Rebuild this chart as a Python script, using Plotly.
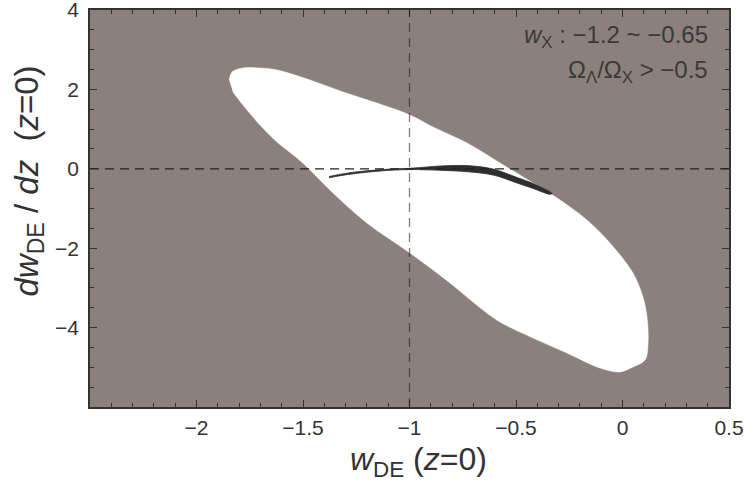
import plotly.graph_objects as go

# Allowed (white) region outline: w_DE(z=0), dw_DE/dz(z=0)
region_w = [-1.847, -1.833, -1.782, -1.702, -1.622, -1.467, -1.312, -1.153, -0.998, -0.890,
            -0.730, -0.575, -0.420, -0.293, -0.167, -0.059, 0.049, 0.096, 0.115, 0.120,
            0.106, 0.049, -0.012, -0.106, -0.261, -0.420, -0.575, -0.655, -0.810, -0.998,
            -1.200, -1.359, -1.467, -1.528, -1.622, -1.702, -1.782, -1.829]
region_dw = [2.237, 2.438, 2.539, 2.539, 2.489, 2.237, 1.935, 1.657, 1.355, 1.053,
             0.650, 0.146, -0.358, -0.786, -1.290, -1.869, -2.625, -3.229, -3.733, -4.388,
             -4.816, -4.992, -5.118, -5.018, -4.640, -4.262, -3.859, -3.557, -2.877, -2.120,
             -1.365, -0.610, -0.030, 0.272, 0.675, 1.103, 1.607, 1.935]

# Dark sliver outline
sliver_w = [-1.378, -1.279, -1.124, -0.998, -0.833, -0.716, -0.608, -0.495, -0.420, -0.331,
            -0.340, -0.420, -0.495, -0.608, -0.730, -0.833, -0.998, -1.124, -1.279, -1.378]
sliver_dw = [-0.194, -0.098, -0.018, 0.013, 0.076, 0.076, -0.005, -0.219, -0.370, -0.622,
             -0.642, -0.496, -0.358, -0.156, -0.073, -0.043, -0.020, -0.050, -0.136, -0.224]

x_ticks = [-2, -1.5, -1, -0.5, 0, 0.5]
y_ticks = [-4, -2, 0, 2, 4]
x_range = [-2.5, 0.5]
y_range = [-6, 4]

BG = "#8b807c"
INK = "#333333"
FONT = "Liberation Sans, Arial, sans-serif"

fig = go.Figure()
fig.add_trace(go.Scatter(x=region_w, y=region_dw, fill="toself", fillcolor="white",
                         mode="lines", line=dict(color="white", width=0.5, shape="spline"),
                         hoverinfo="skip", showlegend=False))
fig.add_trace(go.Scatter(x=sliver_w, y=sliver_dw, fill="toself", fillcolor="#2e2e30",
                         mode="lines", line=dict(color="#2e2e30", width=0.8, shape="spline"),
                         hoverinfo="skip", showlegend=False))

# reference dashed lines
fig.add_shape(type="line", x0=x_range[0], x1=x_range[1], y0=0, y1=0, xref="x", yref="y",
              line=dict(color="#222222", width=1.2, dash="9px,6px"), layer="above")
fig.add_shape(type="line", x0=-1, x1=-1, y0=y_range[0], y1=y_range[1], xref="x", yref="y",
              line=dict(color="rgba(20,20,20,0.55)", width=1.3, dash="9px,6px"), layer="above")

axis_common = dict(showgrid=False, zeroline=False, showline=True, linecolor=INK, linewidth=1.5,
                   mirror="allticks", ticks="inside", ticklen=7, tickwidth=1.2, tickcolor=INK,
                   automargin=False, ticklabeloverflow="allow",
                   tickfont=dict(size=21, color=INK, family=FONT))

fig.update_xaxes(range=x_range, tickvals=x_ticks, ticklabelstandoff=1, **axis_common,
                 minor=dict(dtick=0.1, ticks="inside", ticklen=4, tickwidth=1, tickcolor=INK))
fig.update_yaxes(range=y_range, tickvals=y_ticks, ticklabelstandoff=5, **axis_common,
                 minor=dict(dtick=0.5, ticks="inside", ticklen=4, tickwidth=1, tickcolor=INK))

# axis titles
fig.add_annotation(xref="paper", yref="paper", x=0.514, y=-0.138, xanchor="center", yanchor="middle",
                   text="<i>w</i><sub>DE</sub> (<i>z</i>=0)", showarrow=False,
                   font=dict(size=32, color=INK, family=FONT))
fig.add_annotation(xref="paper", yref="paper", x=-0.097, y=0.568, xanchor="center", yanchor="middle",
                   textangle=-90, text="<i>dw</i><sub>DE</sub> / <i>dz</i>  (<i>z</i>=0)",
                   showarrow=False, font=dict(size=33, color=INK, family=FONT))

fig.add_annotation(xref="paper", yref="paper", x=0.97, y=0.932, xanchor="right", yanchor="middle",
                   text="<i>w</i><sub>X</sub> : −1.2 ~ −0.65", showarrow=False,
                   font=dict(size=24, color="#3a3a3a", family=FONT))
fig.add_annotation(xref="paper", yref="paper", x=0.97, y=0.846, xanchor="right", yanchor="middle",
                   text="Ω<sub>Λ</sub>/Ω<sub>X</sub> > −0.5", showarrow=False,
                   font=dict(size=24, color="#3a3a3a", family=FONT))

fig.update_layout(width=745, height=485, margin=dict(l=90, r=16, t=10, b=78),
                  plot_bgcolor=BG, paper_bgcolor="white", font=dict(family=FONT, color=INK))

fig.write_html("out.html", config={"displayModeBar": False},
               post_script="document.body.style.margin='0';")
